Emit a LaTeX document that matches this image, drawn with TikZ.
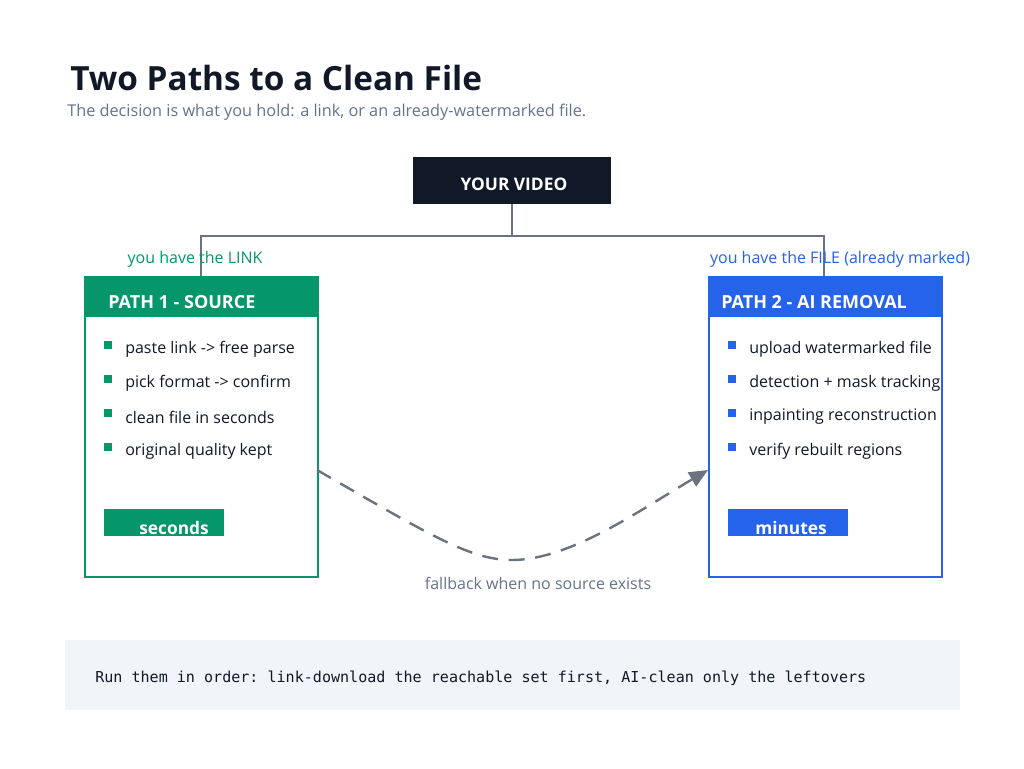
\documentclass[tikz,border=0pt]{standalone}
\usepackage{fontspec}
\setmainfont{Open Sans}
\setmonofont{DejaVu Sans Mono}
\usetikzlibrary{positioning,arrows.meta}
\definecolor{ink}{HTML}{111827}
\definecolor{slate}{HTML}{64748B}
\definecolor{wire}{HTML}{6B7280}
\definecolor{green}{HTML}{059669}
\definecolor{blue}{HTML}{2563EB}
\definecolor{panel}{HTML}{F1F5F9}
\tikzset{
  card/.style = {draw = #1, line width = 1.5pt, minimum width = 175pt, minimum height = 225pt, anchor = north west},
  head/.style = {fill = #1, minimum width = 175pt, minimum height = 30.75pt, anchor = north west},
  headtxt/.style = {anchor = west, inner sep = 0pt, text = white, font = \bfseries\fontsize{13.5}{16}\selectfont},
  item/.style = {anchor = west, inner sep = 0pt, font = \fontsize{12}{14}\selectfont, text = ink},
  dot/.style = {fill = #1, minimum size = 5.5pt, inner sep = 0pt},
  badge/.style = {fill = #1, minimum width = 90pt, minimum height = 20pt, anchor = north west},
  badgetxt/.style = {text = white, font = \bfseries\fontsize{13}{15}\selectfont, anchor = base},
}
\begin{document}
\begin{tikzpicture}[x = 0.75pt, y = -0.75pt]
\useasboundingbox (0, 0) rectangle (1024, 768);
\fill [white] (0, 0) rectangle (1024, 768);
% title
\node [anchor = base west, inner sep = 0pt, text = ink, font = \bfseries\fontsize{25}{29}\selectfont] (title) at (70, 90) {Two Paths to a Clean File};
\node [anchor = base west, inner sep = 0pt, text = slate, font = \fontsize{12.2}{14}\selectfont] (subtitle) at (67, 116) {The decision is what you hold: a link, or an already-watermarked file.};
% root
\node [fill = ink, minimum width = 149pt, minimum height = 35pt] (video) at (512, 180.5) {};
\node [text = white, font = \bfseries\fontsize{13}{15}\selectfont, anchor = base] (videotxt) at (514, 190) {YOUR VIDEO};
% left card
\node [card = green] (src) at (84, 276) {};
\node [head = green] (srchead) at (84, 276) {};
\node [headtxt] (srctxt) at (108, 302) {PATH 1 - SOURCE};
\foreach \t [count = \i] in {paste link -> free parse, pick format -> confirm, clean file in seconds, original quality kept} {
  \node [dot = green] (sd\i) at (108, 311 + 34*\i) {};
  \node [item] (st\i) at (125, 315 + 34*\i) {\t};
}
\node [badge = green] (sbadge) at (104, 509) {};
\node [badgetxt] (stxt) at (174, 534) {seconds};
% right card
\node [card = blue] (ai) at (708, 276) {};
\node [head = blue] (aihead) at (708, 276) {};
\node [headtxt] (aitxt) at (721, 302) {PATH 2 - AI REMOVAL};
\foreach \t [count = \i] in {upload watermarked file, detection + mask tracking, inpainting reconstruction, verify rebuilt regions} {
  \node [dot = blue] (ad\i) at (732, 311 + 34*\i) {};
  \node [item] (at\i) at (749, 315 + 34*\i) {\t};
}
\node [badge = blue] (abadge) at (728, 509) {};
\node [badgetxt] (atxt) at (791, 534) {minutes};
% branches
\coordinate (fork) at (512, 236);
\draw [wire, line width = 1.5pt] (video.south) -- (fork);
\draw [wire, line width = 1.5pt] (201, 276) |- (fork) -| (824, 276);
\node [text = green, font = \fontsize{12}{14}\selectfont] (linklbl) at (195, 259) {you have the LINK};
\node [text = blue, font = \fontsize{12}{14}\selectfont] (filelbl) at (840, 259) {you have the FILE (already marked)};
% fallback
\coordinate (from) at (317, 470);
\coordinate (to) at (708, 470);
\draw [wire, line width = 1.8pt, dash pattern = on 12pt off 8pt, -{Triangle[length = 14pt, width = 12pt]}] (from) .. controls (430, 535) and (470, 560) .. (512, 560) .. controls (570, 560) and (640, 510) .. (to);
\node [text = slate, font = \fontsize{12}{14}\selectfont] (fblbl) at (538, 583) {fallback when no source exists};
% note
\node [fill = panel, minimum width = 671pt, minimum height = 52.5pt, anchor = north west] (note) at (65, 640) {};
\node [anchor = west, inner sep = 0pt, text = ink, font = \ttfamily\fontsize{11.3}{13}\selectfont] (notetxt) at (95, 678) {Run them in order: link-download the reachable set first, AI-clean only the leftovers};
\end{tikzpicture}
\end{document}
